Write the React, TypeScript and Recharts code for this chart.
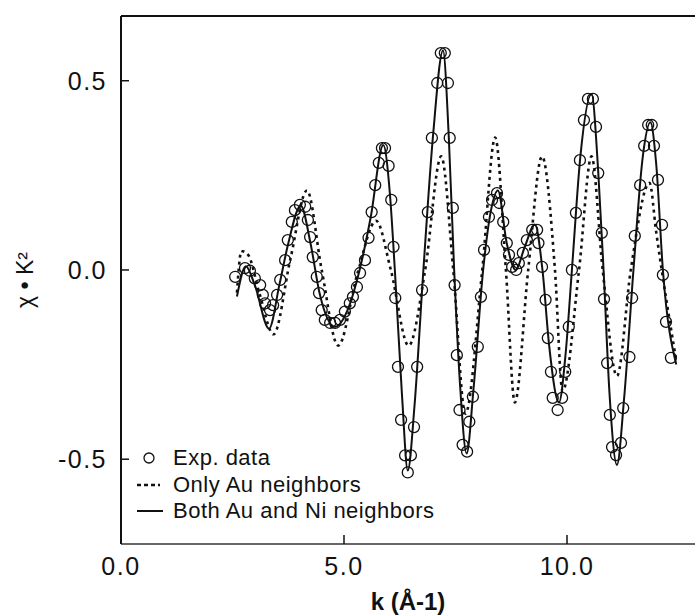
import { ComposedChart, Line, Scatter, XAxis, YAxis, Legend, ReferenceLine } from 'recharts';

// experimental points (open circles)
const expK = [
  2.56, 2.78, 2.89, 3.0, 3.12, 3.18, 3.23, 3.34, 3.41, 3.5, 3.57, 3.68, 3.74, 3.83, 3.9,
  4.01, 4.13, 4.19, 4.24, 4.3, 4.39, 4.44, 4.5, 4.57, 4.69, 4.8, 4.91, 5.02, 5.13, 5.2,
  5.29, 5.36, 5.47, 5.55, 5.62, 5.7, 5.78, 5.85, 5.92, 6.0, 6.06, 6.11, 6.15, 6.21, 6.28,
  6.37, 6.43, 6.5, 6.57, 6.64, 6.75, 6.88, 6.97, 7.09, 7.17, 7.26, 7.33, 7.37, 7.44, 7.48,
  7.53, 7.59, 7.66, 7.76, 7.81, 7.89, 8.0, 8.07, 8.14, 8.25, 8.32, 8.43, 8.48, 8.57, 8.65,
  8.7, 8.77, 8.86, 8.92, 9.01, 9.1, 9.22, 9.33, 9.36, 9.44, 9.52, 9.57, 9.64, 9.68, 9.79,
  9.89, 9.96, 10.04, 10.11, 10.2, 10.29, 10.38, 10.47, 10.58, 10.65, 10.7, 10.78, 10.83, 10.9,
  10.96, 11.01, 11.1, 11.21, 11.26, 11.4, 11.46, 11.52, 11.64, 11.73, 11.82, 11.9, 11.95,
  12.04, 12.13, 12.15, 12.22, 12.33,
];
const expChi = [
  -0.018, 0.005, -0.002, -0.022, -0.04, -0.066, -0.088, -0.106, -0.093, -0.066, -0.026, 0.026, 0.079, 0.127, 0.158,
  0.172, 0.167, 0.132, 0.087, 0.034, -0.018, -0.061, -0.106, -0.132, -0.14, -0.14, -0.132, -0.11, -0.088, -0.071,
  -0.045, -0.008, 0.026, 0.085, 0.153, 0.224, 0.283, 0.322, 0.322, 0.275, 0.185, 0.061, -0.074, -0.256, -0.396,
  -0.49, -0.535, -0.49, -0.415, -0.256, -0.053, 0.153, 0.349, 0.494, 0.573, 0.573, 0.494, 0.349, 0.164, -0.04,
  -0.225, -0.37, -0.462, -0.48, -0.401, -0.335, -0.203, -0.071, 0.053, 0.14, 0.185, 0.203, 0.177, 0.127, 0.071,
  0.04, 0.008, 0.0, 0.018, 0.045, 0.079, 0.106, 0.106, 0.071, 0.008, -0.079, -0.18, -0.269, -0.338, -0.37,
  -0.338, -0.269, -0.15, 0.0, 0.151, 0.29, 0.396, 0.452, 0.452, 0.378, 0.256, 0.098, -0.077, -0.246,
  -0.383, -0.468, -0.489, -0.457, -0.365, -0.23, -0.074, 0.09, 0.224, 0.328, 0.383, 0.383, 0.328,
  0.238, 0.119, -0.013, -0.137, -0.232,
];

// fit with only Au neighbors (dotted)
const onlyAuK = [
  2.6, 2.7, 2.85, 3.1, 3.42, 3.8, 4.17, 4.5, 4.87, 5.3, 5.72, 6.05, 6.45, 6.82, 7.18, 7.45,
  7.72, 8.1, 8.39, 8.63, 8.83, 9.13, 9.44, 9.73, 9.9, 10.27, 10.55, 10.8, 11.12, 11.43, 11.85, 12.0, 12.45,
];
const onlyAuChi = [
  -0.06, 0.05, 0.04, -0.06, -0.17, 0.03, 0.21, 0.0, -0.2, -0.01, 0.13, 0.0, -0.2, 0.0, 0.3, 0.0,
  -0.38, 0.0, 0.35, 0.0, -0.35, 0.0, 0.3, 0.0, -0.32, 0.0, 0.3, 0.0, -0.28, 0.0, 0.23, 0.1, -0.24,
];

// fit with both Au and Ni neighbors (solid)
const bothK = [
  2.6, 2.8, 3.0, 3.32, 3.55, 3.75, 4.03, 4.25, 4.45, 4.8, 5.1, 5.35, 5.6, 5.88, 6.03, 6.14,
  6.3, 6.43, 6.58, 6.78, 7.0, 7.22, 7.35, 7.47, 7.6, 7.75, 7.9, 8.12, 8.3, 8.45, 8.65, 8.85,
  9.05, 9.28, 9.45, 9.6, 9.82, 9.97, 10.11, 10.3, 10.55, 10.7, 10.82, 10.95, 11.12, 11.28, 11.49,
  11.7, 11.87, 12.0, 12.15, 12.45,
];
const bothChi = [
  -0.07, 0.01, -0.04, -0.155, -0.04, 0.07, 0.17, 0.07, -0.06, -0.15, -0.1, 0.0, 0.14, 0.33, 0.2, 0.0,
  -0.33, -0.53, -0.36, 0.0, 0.36, 0.58, 0.35, 0.0, -0.3, -0.485, -0.32, 0.0, 0.16, 0.21, 0.07, 0.0,
  0.06, 0.12, 0.0, -0.2, -0.35, -0.22, 0.0, 0.3, 0.465, 0.26, 0.0, -0.32, -0.515, -0.34, 0.0,
  0.3, 0.39, 0.28, 0.0, -0.25,
];

const xTicks = [0, 5, 10];
const yTicks = [-0.5, 0, 0.5];
const legendLabels = ['Exp. data', 'Only Au neighbors', 'Both Au and Ni neighbors'];

const xDomain = [0, 12.87];
const yDomain = [-0.724, 0.671];

const expData = expK.map((k, i) => ({ k, chi: expChi[i] }));
const onlyAuData = onlyAuK.map((k, i) => ({ k, chi: onlyAuChi[i] }));
const bothData = bothK.map((k, i) => ({ k, chi: bothChi[i] }));

const font = '"Liberation Sans", Arial, Helvetica, sans-serif';
const ink = '#111';

const OpenCircle = (props: any) => (
  <circle cx={props.cx} cy={props.cy} r={5.5} fill="none" stroke={ink} strokeWidth={1.3} />
);

// ticks point inward, labels sit outside
const YTick = (props: any) => {
  const { x, y, payload } = props;
  const ax = x + 14;
  return (
    <g>
      <line x1={ax} x2={ax + 8} y1={y} y2={y} stroke={ink} strokeWidth={1.5} />
      <text x={x} y={y} dy="0.36em" textAnchor="end" fontSize={25} fill={ink} fontFamily={font} letterSpacing={1.5}>
        {payload.value.toFixed(1)}
      </text>
    </g>
  );
};

const XTick = (props: any) => {
  const { x, y, payload } = props;
  const ay = y - 13;
  return (
    <g>
      {payload.value > 0 && <line x1={x} x2={x} y1={ay} y2={ay - 9} stroke={ink} strokeWidth={1.5} />}
      <text x={x} y={y} dy="0.72em" textAnchor="middle" fontSize={25} fill={ink} fontFamily={font} letterSpacing={1.5}>
        {payload.value.toFixed(1)}
      </text>
    </g>
  );
};

function LegendBox() {
  return (
    <div style={{ fontFamily: font, fontSize: 22, color: ink }}>
      {legendLabels.map((label, i) => (
        <div key={label} style={{ display: 'flex', alignItems: 'center', height: 26.5 }}>
          <svg width={30} height={26}>
            {i === 0 && <circle cx={13} cy={13} r={5} fill="none" stroke={ink} strokeWidth={1.3} />}
            {i === 1 && (
              <line x1={1} x2={24} y1={13} y2={13} stroke={ink} strokeWidth={2.5} strokeDasharray="4 3" />
            )}
            {i === 2 && <line x1={1} x2={27} y1={13} y2={13} stroke={ink} strokeWidth={2} />}
          </svg>
          <span style={{ marginLeft: 7, letterSpacing: 0.5 }}>{label}</span>
        </div>
      ))}
    </div>
  );
}

export default function App() {
  return (
    <div style={{ position: 'absolute', left: 0, top: 0, background: '#fff' }}>
      <ComposedChart width={695} height={616} margin={{ top: 16, right: 0, bottom: 0, left: 0 }}>
        <XAxis
          dataKey="k"
          type="number"
          domain={xDomain}
          allowDataOverflow
          ticks={xTicks}
          height={72}
          tickSize={0}
          tickMargin={13}
          tick={<XTick />}
          tickLine={false}
          axisLine={{ stroke: '#333', strokeWidth: 1.5 }}
          label={{
            value: 'k (Å-1)',
            position: 'center',
            dy: 21,
            style: { fontSize: 24, fontWeight: 'bold', fill: ink, fontFamily: font },
          }}
        />
        <YAxis
          type="number"
          domain={yDomain}
          allowDataOverflow
          ticks={yTicks}
          width={121}
          tickSize={0}
          tickMargin={14}
          tick={<YTick />}
          tickLine={false}
          axisLine={{ stroke: ink, strokeWidth: 2 }}
          label={{
            value: 'χ • K²',
            angle: -90,
            position: 'center',
            dx: -36,
            style: { fontSize: 23, fill: ink, fontFamily: font },
          }}
        />
        <ReferenceLine y={yDomain[1]} stroke={ink} strokeWidth={2} ifOverflow="visible" />
        <Line
          data={onlyAuData}
          dataKey="chi"
          type="monotone"
          stroke={ink}
          strokeWidth={2.6}
          strokeDasharray="3 4"
          dot={false}
          activeDot={false}
          isAnimationActive={false}
        />
        <Line
          data={bothData}
          dataKey="chi"
          type="monotone"
          stroke={ink}
          strokeWidth={2}
          dot={false}
          activeDot={false}
          isAnimationActive={false}
        />
        <Scatter data={expData} dataKey="chi" shape={OpenCircle} isAnimationActive={false} />
        <Legend
          layout="horizontal"
          verticalAlign="middle"
          align="center"
          content={() => <LegendBox />}
          wrapperStyle={{ position: 'absolute', left: 136, top: 445, width: 'auto' }}
        />
      </ComposedChart>
    </div>
  );
}
